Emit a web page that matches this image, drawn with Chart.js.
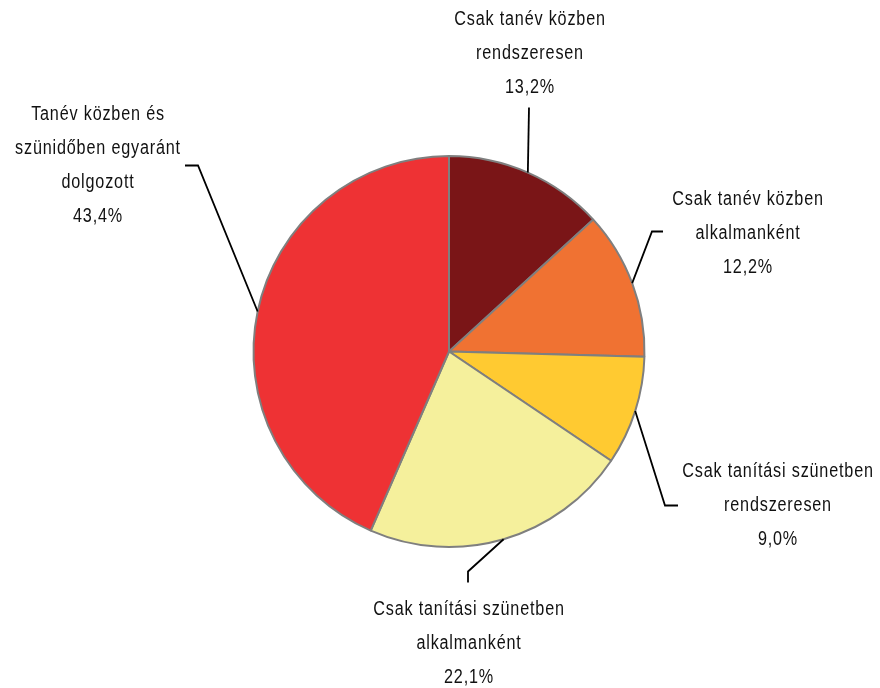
<!DOCTYPE html>
<html>
<head>
<meta charset="utf-8">
<script src="https://cdn.jsdelivr.net/npm/chart.js@4/dist/chart.umd.min.js"></script>
<style>
  html, body { margin: 0; padding: 0; background: #fff; }
  #wrap { width: 880px; height: 688px; }
</style>
</head>
<body>
<div id="wrap"><canvas id="chartArea"></canvas></div>
<script>
// categories, split into the lines they are printed on
const categories = [
    ['Csak tanév közben', 'rendszeresen'],
    ['Csak tanév közben', 'alkalmanként'],
    ['Csak tanítási szünetben', 'rendszeresen'],
    ['Csak tanítási szünetben', 'alkalmanként'],
    ['Tanév közben és', 'szünidőben egyaránt', 'dolgozott']
];
const shares = [13.2, 12.2, 9.0, 22.1, 43.4];
const colors = ['#7A1517', '#F07232', '#FFCA31', '#F5F09C', '#EE3234'];

// where each label sits, as offsets from the pie centre
// text: [x of text centre, y of first line]; path: leader line points after the arc anchor
const labelPlaces = [
    { text: [81, -332], path: [[80, -244]] },
    { text: [299, -152], path: [[203, -120], [214, -120]] },
    { text: [329, 120], path: [[216, 154], [229, 154]] },
    { text: [20, 258], path: [[19, 220], [19, 231]] },
    { text: [-351, -237], path: [[-251, -186], [-264, -186]] }
];

function formatShare(v) {
    return v.toFixed(1).replace('.', ',') + '%';
}

// no narrow font installed, so squeeze the regular one sideways
const TEXT_SQUEEZE = 0.81;

const leaderLabels = {
    id: 'leaderLabels',
    afterDatasetsDraw(chart) {
        const ctx = chart.ctx;
        const arcs = chart.getDatasetMeta(0).data;
        ctx.save();
        ctx.strokeStyle = '#000';
        ctx.lineWidth = 1.8;
        ctx.fillStyle = '#111';
        ctx.font = '20px "Liberation Sans Narrow", "Arial Narrow", "Liberation Sans", sans-serif';
        ctx.letterSpacing = '1px';
        ctx.textAlign = 'center';
        ctx.textBaseline = 'middle';
        arcs.forEach((arc, i) => {
            const p = arc.getProps(['x', 'y', 'startAngle', 'endAngle', 'outerRadius'], true);
            const mid = (p.startAngle + p.endAngle) / 2;
            const ax = p.x + Math.cos(mid) * p.outerRadius;
            const ay = p.y + Math.sin(mid) * p.outerRadius;
            const place = labelPlaces[i];
            ctx.beginPath();
            ctx.moveTo(ax, ay);
            for (const pt of place.path) {
                ctx.lineTo(p.x + pt[0], p.y + pt[1]);
            }
            ctx.stroke();
            const lines = categories[i].concat([formatShare(shares[i])]);
            lines.forEach((line, k) => {
                ctx.save();
                ctx.translate(p.x + place.text[0], p.y + place.text[1] + k * 34);
                ctx.scale(TEXT_SQUEEZE, 1);
                ctx.fillText(line, 0, 0);
                ctx.restore();
            });
        });
        ctx.restore();
    }
};

const ctx = document.getElementById('chartArea');
new Chart(ctx, {
    type: 'pie',
    data: {
        labels: categories.map(c => c.join(' ')),
        datasets: [{
            data: shares,
            backgroundColor: colors,
            borderColor: '#7f7f7f',
            borderWidth: 2
        }]
    },
    options: {
        responsive: true,
        maintainAspectRatio: false,
        animation: false,
        layout: {
            padding: { left: 252, right: 234, top: 155, bottom: 140 }
        },
        plugins: {
            legend: { display: false },
            tooltip: { enabled: false }
        }
    },
    plugins: [leaderLabels]
});
</script>
</body>
</html>
